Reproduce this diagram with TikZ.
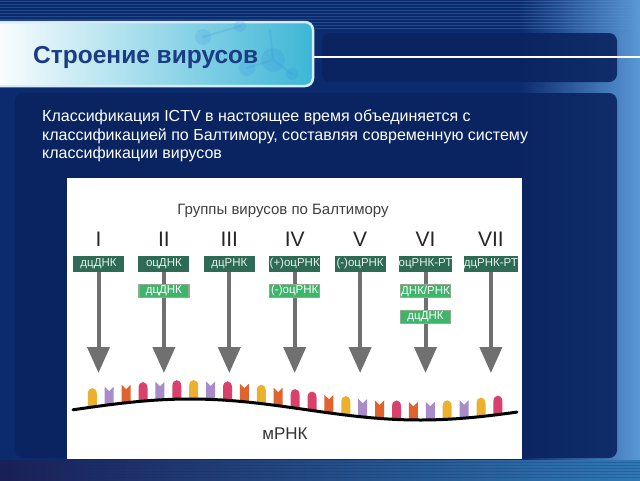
\documentclass[tikz,border=0pt]{standalone}
\usepackage{fontspec}
\setmainfont{Liberation Sans}
\usetikzlibrary{arrows.meta}
\definecolor{bgdark}{HTML}{0B2B6E}
\definecolor{bglight}{HTML}{5A98D6}
\definecolor{boxdark}{HTML}{0A2460}
\definecolor{bandleft}{HTML}{1A1F55}
\definecolor{bandmid}{HTML}{7A98BE}
\definecolor{bandright}{HTML}{2F78B4}
\definecolor{titlefg}{HTML}{1B3C82}
\definecolor{titlecyan}{HTML}{3DB6D6}
\definecolor{titleedge}{HTML}{D6ECF4}
\definecolor{labdark}{HTML}{2E6B56}
\definecolor{labtext}{HTML}{E6F2EA}
\definecolor{labgreen}{HTML}{3DB56A}
\definecolor{labedge}{HTML}{93AA8E}
\definecolor{arrgray}{HTML}{707070}
\definecolor{yel}{HTML}{EBB12E}
\definecolor{lav}{HTML}{A88BC8}
\definecolor{ora}{HTML}{E0622C}
\definecolor{pnk}{HTML}{D8416B}
% one base on the mRNA strand: index, colour, b (bullet) or n (notch)
\newcommand{\mbase}[3]{%
  \pgfmathsetmacro{\bx}{92.3+16.9*#1}%
  \pgfmathsetmacro{\by}{409.5+10.5*sin((\bx-305)/230*180)}%
  \if#3b
    \fill[#2] (\bx-4.5,\by) -- (\bx-4.5,\by-13) .. controls (\bx-4.5,\by-21) and (\bx+4.5,\by-21) .. (\bx+4.5,\by-13) -- (\bx+4.5,\by) -- cycle;
  \else
    \fill[#2] (\bx-4.5,\by) -- (\bx-4.5,\by-18) -- (\bx,\by-13.5) -- (\bx+4.5,\by-18) -- (\bx+4.5,\by) -- cycle;
  \fi}
\begin{document}
\begin{tikzpicture}[x=1pt, y=-1pt, line join=round, line cap=round,
  toplab/.style={fill=labdark, text=labtext, minimum width=51pt, minimum height=16pt, inner sep=0pt, font=\fontsize{11.5}{11.5}\selectfont},
  sublab/.style={fill=labgreen, draw=labedge, line width=1.5pt, text=white, minimum width=50pt, minimum height=13pt, inner sep=0pt, font=\fontsize{11.5}{11.5}\selectfont},
  gene/.style={draw=arrgray, line width=4pt, line cap=butt, -{Triangle[width=22pt, length=26pt]}}]
\useasboundingbox (0,0) rectangle (640,480);
% background
\fill[bgdark] (0,0) rectangle (640,480);
\shade[left color=bgdark, right color=bglight] (520,0) rectangle (640,480);
\foreach \y in {1,4,...,28} \draw[bglight, opacity=.3, line width=1pt] (0,\y) -- (640,\y);
\shade[left color=bandleft, middle color=bandmid, right color=bandright] (0,460) rectangle (640,480);
\foreach \y in {462,465,...,479} \draw[bgdark, opacity=.25, line width=1pt] (0,\y) -- (640,\y);
\fill[boxdark, opacity=.9, rounded corners=8pt] (15,93) rectangle (617,458);
\fill[boxdark, opacity=.9, rounded corners=8pt] (322,33) rectangle (617,82);
\draw[white, line width=1.5pt] (300,57) -- (640,57);
% title bar
\shadedraw[left color=white, middle color=titleedge, right color=titlecyan, draw=titleedge, line width=2.5pt, rounded corners=8pt] (-10,22) rectangle (313,86);
\foreach \p/\r in {{203,37}/8, {240,26}/6, {273,60}/12, {247,68}/8, {292,74}/6}
  \fill[titlecyan!70!blue, opacity=.15] (\p) circle (\r);
\draw[titlecyan!70!blue, opacity=.15, line width=2pt] (203,37) -- (240,26) (247,68) -- (273,60) -- (292,74) (273,60) -- (270,30);
\node[anchor=west, inner sep=0pt, text=titlefg, font=\fontsize{24.5}{24.5}\selectfont\bfseries] (title) at (33,57) {Строение вирусов};
\node[anchor=north west, inner sep=0pt, align=left, text=white, font=\fontsize{16}{18.5}\selectfont] (intro) at (42,110)
  {Классификация ICTV в настоящее время объединяется с\\классификацией по Балтимору, составляя современную систему\\классификации вирусов};
% Baltimore panel
\fill[white] (67,178) rectangle (522,459);
\node[text=black!75, font=\fontsize{15}{15}\selectfont] (groups) at (283,211) {Группы вирусов по Балтимору};
\foreach \num/\lab [count=\i] in {I/дцДНК, II/оцДНК, III/дцРНК, IV/(+)оцРНК, V/(-)оцРНК, VI/оцРНК-РТ, VII/дцРНК-РТ}
{
  \pgfmathsetmacro{\cx}{98.5+65.4*(\i-1)}
  \node[font=\fontsize{21}{21}\selectfont, text=black!85] (r\i) at (\cx,239) {\num};
  \node[toplab] (t\i) at (\cx,264) {\lab};
  \coordinate (a\i) at (\cx,373);
  \draw[gene] (t\i.south) -- (a\i);
}
\node[sublab] (s2) at (t2 |- 0,291) {дцДНК};
\node[sublab] (s4) at (t4 |- 0,291) {(-)оцРНК};
\node[sublab] (s6) at (t6 |- 0,291) {ДНК/РНК};
\node[sublab] (s6b) at (t6 |- 0,317) {дцДНК};
% mRNA with bases
\foreach \col/\kind [count=\k from 0] in {yel/b, lav/n, ora/n, pnk/b, lav/n, pnk/b, yel/b, lav/n, pnk/b, ora/n, yel/b, ora/n, pnk/b,
  pnk/b, ora/n, yel/b, lav/n, ora/n, pnk/b, ora/n, lav/n, yel/b, lav/n, yel/b, pnk/b}
  \mbase{\k}{\col}{\kind};
\draw[line width=3pt, domain=73:517, samples=80] plot (\x, {409.5+10.5*sin((\x-305)/230*180)});
\node[font=\fontsize{17}{17}\selectfont, text=black!80] (mrna) at (285,434) {мРНК};
\end{tikzpicture}
\end{document}
